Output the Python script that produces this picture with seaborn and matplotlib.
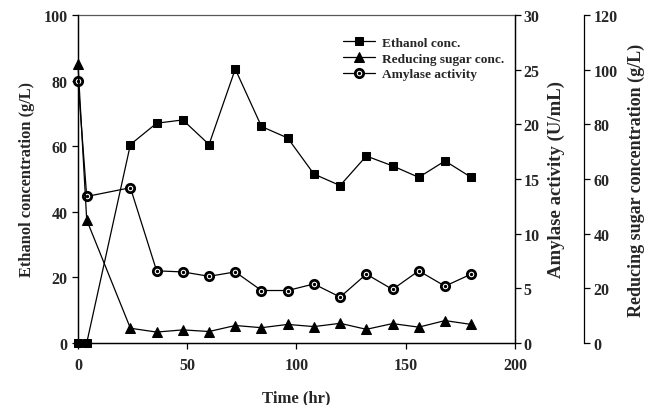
import matplotlib
matplotlib.use("Agg")
import matplotlib.pyplot as plt
import pandas as pd
import seaborn as sns
from matplotlib.legend_handler import HandlerTuple

# Fermentation time course
time_hr = [0, 4, 24, 36, 48, 60, 72, 84, 96, 108, 120, 132, 144, 156, 168, 180]
ethanol = [0, 0, 60.5, 67, 68, 60.5, 83.5, 66, 62.5, 51.5, 48, 57, 54, 50.5, 55.5, 50.5]
sugar = [102, 45, 5.4, 4.0, 4.8, 4.2, 6.4, 5.6, 6.8, 6.0, 7.2, 5.0, 7.1, 5.8, 8.2, 6.8]
amylase = [24, 13.4, 14.2, 6.6, 6.5, 6.1, 6.5, 4.8, 4.8, 5.4, 4.2, 6.3, 4.9, 6.6, 5.2, 6.3]

df = pd.DataFrame({"time": time_hr, "ethanol": ethanol, "sugar": sugar, "amylase": amylase})

sns.set_style("ticks")
plt.rcParams['font.family'] = ['Liberation Serif', 'DejaVu Serif']
plt.rcParams['font.weight'] = 'bold'
plt.rcParams['axes.labelweight'] = 'bold'
plt.rcParams['xtick.direction'] = 'out'
plt.rcParams['ytick.direction'] = 'out'

fig = plt.figure(figsize=(6.58, 4.06), dpi=100)
ax1 = fig.add_axes([0.1185, 0.1527, 0.664, 0.808])
ax2 = ax1.twinx()
ax3 = ax1.twinx()
ax3.spines['right'].set_position(('axes', 1.158))

line_kw = dict(color='k', linewidth=0.9, clip_on=False)

sns.lineplot(data=df, x="time", y="ethanol", ax=ax1, marker='s', markersize=6.2,
             markerfacecolor='k', markeredgecolor='k', label="Ethanol conc.", legend=False, **line_kw)
sns.lineplot(data=df, x="time", y="sugar", ax=ax3, marker='^', markersize=6.8,
             markerfacecolor='k', markeredgecolor='k', label="Reducing sugar conc.", legend=False, **line_kw)
sns.lineplot(data=df, x="time", y="amylase", ax=ax2, marker='o', markersize=6,
             markerfacecolor='white', markeredgecolor='k', markeredgewidth=2,
             label="Amylase activity", legend=False, **line_kw)
# centre dot of the amylase markers
dots, = ax2.plot(df["time"], df["amylase"], linestyle='none', marker='o', markersize=1.4,
                 color='k', clip_on=False)

ax1.set_xlim(0, 200)
ax1.set_ylim(0, 100)
ax2.set_ylim(0, 30)
ax3.set_ylim(0, 120)
ax1.set_xticks([0, 50, 100, 150, 200])
ax1.set_yticks(range(0, 101, 20))
ax2.set_yticks(range(0, 31, 5))
ax3.set_yticks(range(0, 121, 20))

for ax in (ax1, ax2, ax3):
    ax.tick_params(labelsize=11.5, length=4, width=0.9, color='k')
    for s in ax.spines.values():
        s.set_linewidth(0.9)
        s.set_color('k')
ax1.tick_params(axis='x', pad=6)
ax2.tick_params(axis='y', pad=2)
ax3.tick_params(axis='y', pad=3)
ax1.spines['top'].set_color('0.35')
ax2.spines['top'].set_visible(False)
ax3.spines['top'].set_visible(False)
ax3.spines['left'].set_visible(False)
ax3.spines['bottom'].set_visible(False)

ax1.set_xlabel("Time (hr)", fontsize=12, labelpad=12)
ax1.set_ylabel("Ethanol concentration (g/L)", fontsize=11.8, labelpad=6)
ax2.set_ylabel("Amylase activity (U/mL)", fontsize=13.5, labelpad=6)
ax3.set_ylabel("Reducing sugar concentration (g/L)", fontsize=13, labelpad=7)

h1 = ax1.get_lines()[0]
h3 = ax3.get_lines()[0]
h2 = ax2.get_lines()[0]
ax1.legend([h1, h3, (h2, dots)], ["Ethanol conc.", "Reducing sugar conc.", "Amylase activity"],
           handler_map={tuple: HandlerTuple(ndivide=1, pad=0)},
           loc='upper left', bbox_to_anchor=(0.58, 0.97), frameon=False, fontsize=9.6,
           handlelength=2.4, labelspacing=0.25, handletextpad=0.5)

plt.savefig("out.png", dpi=100)
